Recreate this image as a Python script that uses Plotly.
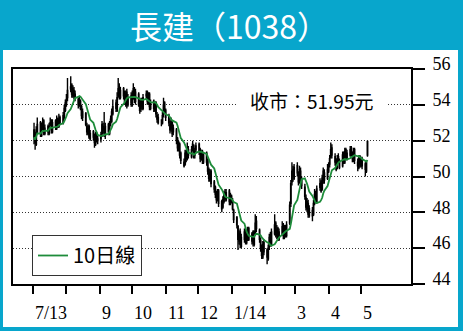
import pandas as pd
import plotly.graph_objects as go

TITLE = "長建（1038）"
MA_NAME = "10日線"
MONTH_TICKS = ["2013-07-01", "2013-08-01", "2013-09-01", "2013-10-01", "2013-11-01", "2013-12-01",
               "2014-01-01", "2014-02-01", "2014-03-01", "2014-04-01", "2014-05-01"]
MONTH_LABELS = ["7/13", "", "9", "10", "11", "12", "1/14", "", "3", "4", "5"]
Y_TICKS = [44, 46, 48, 50, 52, 54, 56]

# daily prices, Jul 2013 .. May 2014 (trading days)
OPEN = [
    52.6, 52.3, 51.8, 52.5, 53.0, 52.3, 52.7, 53.1, 52.4, 52.8, 52.4, 52.9, 53.1, 52.5, 53.1, 52.7, 53.2, 52.8, 53.3, 53.0, 53.3, 53.7,
    54.1, 54.4, 54.9, 55.1, 54.5, 54.8, 54.6, 54.3, 54.0, 54.2, 53.9, 53.3, 53.5, 52.8, 52.4, 52.8, 52.1, 52.5, 52.3, 51.8, 52.4, 52.0,
    52.1, 52.4, 52.8, 52.7, 52.3, 52.9, 52.4, 53.0, 53.1, 53.5, 54.1, 53.7, 54.5, 55.0, 54.4, 54.9, 54.6, 54.1, 54.7, 54.0, 54.5,
    54.0, 54.5, 54.8, 54.2, 54.6, 54.1, 53.8, 54.3, 53.8, 54.5, 54.7, 54.1, 54.6, 53.8, 54.2, 53.7, 54.1, 53.4, 53.3, 52.9, 53.0, 53.5, 54.1,
    53.7, 53.4, 52.9, 52.7, 53.0, 52.5, 52.6, 52.1, 51.5, 51.8, 51.3, 50.8, 50.7, 51.4, 51.0, 51.5, 51.1, 51.6, 51.7, 51.2, 51.5,
    51.8, 51.5, 51.0, 51.4, 50.8, 51.3, 50.9, 50.4, 49.8, 50.3, 49.7, 49.4, 49.1, 48.8, 49.2, 48.6, 48.3, 48.6, 49.1, 48.7, 49.2, 48.6,
    48.9, 48.6, 48.1, 47.7, 47.2, 46.4, 46.9, 46.1, 46.5, 47.0, 46.3, 46.6, 47.1, 46.4, 46.9, 46.2, 46.8, 47.5, 47.0, 46.4, 46.1, 45.5, 46.3,
    45.9, 45.4, 46.1, 46.7, 46.2, 46.8, 47.4, 46.7, 47.1, 46.5, 46.8, 47.3, 46.6, 47.2, 46.7, 47.4, 48.5, 49.7, 50.4, 49.9,
    50.6, 50.1, 49.8, 50.3, 49.8, 49.4, 48.8, 48.2, 48.5, 47.8, 48.1, 47.9, 48.6, 49.1, 48.6, 49.4, 49.7, 49.3, 49.8, 50.2, 49.9,
    50.3, 50.7, 51.1, 51.6, 51.1, 50.9, 50.5, 51.1, 50.8, 50.6, 51.3, 50.8, 51.5, 51.0, 51.2, 51.6, 51.3, 50.9, 51.5, 50.8, 50.5, 51.1,
    50.6, 51.0, 50.7, 50.3, 51.2,
]
HIGH = [
    53.0, 52.5, 52.8, 53.3, 53.1, 53.0, 53.3, 53.2, 52.9, 52.9, 53.0, 53.3, 53.2, 53.2, 53.2, 53.4, 53.3, 53.5, 53.4, 53.6, 54.0, 54.3,
    54.6, 55.5, 55.6, 55.2, 55.1, 55.0, 54.8, 54.4, 54.5, 54.3, 54.0, 53.8, 53.6, 53.0, 52.9, 52.9, 52.6, 52.6, 52.4, 52.5, 52.5, 52.3,
    52.5, 53.1, 53.0, 53.6, 53.0, 53.0, 53.1, 53.4, 53.8, 54.3, 54.3, 54.7, 55.5, 55.2, 55.0, 55.0, 54.8, 54.8, 54.9, 54.6, 54.7,
    54.8, 55.2, 55.0, 54.9, 54.7, 54.3, 54.4, 54.4, 54.6, 54.8, 54.8, 54.7, 54.7, 54.3, 54.3, 54.2, 54.2, 53.6, 53.5, 53.2, 53.6, 54.4, 54.2,
    53.8, 53.5, 53.1, 53.3, 53.1, 52.9, 52.7, 52.2, 52.0, 51.9, 51.4, 51.0, 51.5, 51.5, 51.9, 51.7, 51.7, 52.0, 51.8, 51.6, 51.9,
    51.9, 51.6, 51.5, 51.5, 51.3, 51.4, 51.0, 50.5, 50.4, 50.4, 49.8, 49.5, 49.2, 49.3, 49.3, 48.7, 48.9, 49.2, 49.3, 49.3, 49.3, 49.1,
    49.0, 48.8, 48.2, 47.8, 47.3, 47.0, 47.1, 46.8, 47.1, 47.2, 46.9, 47.2, 47.2, 46.9, 47.0, 47.0, 47.9, 47.8, 47.1, 46.6, 46.2, 46.4, 46.5,
    46.0, 46.2, 46.8, 46.9, 47.1, 47.9, 47.5, 47.3, 47.2, 47.1, 47.5, 47.4, 47.3, 47.3, 47.5, 48.6, 49.8, 50.8, 50.6, 50.7,
    50.8, 50.3, 50.6, 50.5, 50.0, 49.6, 49.0, 48.8, 48.7, 48.4, 48.3, 48.7, 49.3, 49.2, 49.5, 49.9, 49.8, 50.1, 50.5, 50.4, 50.7,
    50.8, 51.2, 51.9, 51.8, 51.3, 51.0, 51.2, 51.3, 51.0, 51.4, 51.4, 51.6, 51.6, 51.5, 51.7, 51.7, 51.4, 51.6, 51.6, 51.0, 51.2, 51.2,
    51.1, 51.1, 50.8, 50.9, 52.0,
]
LOW = [
    51.8, 51.5, 51.7, 52.4, 52.2, 52.2, 52.6, 52.3, 52.3, 52.3, 52.3, 52.8, 52.4, 52.4, 52.6, 52.6, 52.7, 52.7, 52.9, 52.9, 53.2, 53.6,
    53.9, 54.2, 54.7, 54.4, 54.4, 54.3, 54.2, 53.8, 53.9, 53.7, 53.2, 53.1, 52.8, 52.3, 52.3, 52.1, 52.0, 52.0, 51.6, 51.7, 51.9, 51.8,
    51.9, 52.2, 52.4, 52.2, 52.1, 52.3, 52.3, 52.8, 53.0, 53.4, 53.6, 53.6, 54.4, 54.3, 54.3, 54.3, 54.0, 53.9, 53.8, 53.9, 53.9,
    53.9, 54.3, 54.1, 54.0, 53.9, 53.5, 53.6, 53.7, 53.7, 54.3, 54.0, 54.0, 53.7, 53.7, 53.6, 53.6, 53.3, 53.0, 52.9, 52.8, 52.9, 53.3, 53.5,
    53.1, 52.8, 52.4, 52.5, 52.2, 52.3, 51.8, 51.4, 51.4, 51.0, 50.7, 50.5, 50.6, 50.8, 50.9, 51.0, 51.0, 51.4, 51.0, 51.0, 51.3,
    51.2, 50.8, 50.9, 50.7, 50.7, 50.6, 50.1, 49.7, 49.7, 49.4, 49.1, 48.8, 48.5, 48.6, 48.3, 48.0, 48.2, 48.5, 48.6, 48.6, 48.4, 48.4,
    48.5, 48.1, 47.4, 47.1, 45.9, 46.2, 46.0, 46.0, 46.3, 46.2, 46.2, 46.4, 46.4, 46.2, 46.1, 46.1, 46.7, 46.9, 46.3, 45.8, 45.4, 45.4, 45.6,
    45.1, 45.3, 45.9, 46.1, 46.1, 46.7, 46.6, 46.5, 46.4, 46.4, 46.7, 46.5, 46.5, 46.6, 46.6, 47.3, 48.3, 49.5, 49.7, 49.8,
    50.0, 49.5, 49.6, 49.7, 49.3, 48.7, 48.1, 48.0, 47.7, 47.7, 47.5, 47.8, 48.4, 48.5, 48.5, 49.2, 49.1, 49.2, 49.6, 49.6, 49.8,
    50.2, 50.5, 51.0, 51.0, 50.6, 50.3, 50.4, 50.7, 50.4, 50.5, 50.7, 50.7, 51.0, 50.9, 51.1, 51.1, 50.8, 50.8, 50.7, 50.3, 50.4, 50.5,
    50.5, 50.4, 50.0, 50.2, 51.1,
]
CLOSE = [
    52.2, 51.9, 52.6, 52.9, 52.4, 52.8, 53.0, 52.5, 52.7, 52.5, 52.8, 53.0, 52.6, 53.0, 52.8, 53.1, 52.9, 53.2, 53.0, 53.4, 53.8, 54.1,
    54.3, 54.8, 55.0, 54.6, 54.9, 54.5, 54.4, 54.0, 54.3, 53.8, 53.4, 53.6, 52.9, 52.5, 52.7, 52.2, 52.4, 52.2, 51.9, 52.3, 52.0, 52.1,
    52.3, 52.9, 52.6, 52.4, 52.8, 52.5, 52.9, 53.2, 53.6, 53.9, 53.8, 54.4, 54.9, 54.5, 54.8, 54.5, 54.2, 54.6, 54.0, 54.4, 54.1,
    54.6, 54.9, 54.3, 54.7, 54.0, 53.7, 54.2, 53.9, 54.4, 54.6, 54.2, 54.5, 53.9, 54.1, 53.8, 54.0, 53.5, 53.2, 53.0, 52.9, 53.4, 54.0, 53.6,
    53.3, 53.0, 52.6, 53.1, 52.4, 52.7, 52.0, 51.6, 51.9, 51.2, 50.9, 50.6, 51.3, 51.0, 51.6, 51.2, 51.5, 51.8, 51.1, 51.4, 51.7,
    51.4, 51.0, 51.3, 50.9, 51.2, 50.8, 50.3, 49.9, 50.2, 49.6, 49.3, 49.0, 48.7, 49.1, 48.5, 48.2, 48.7, 49.0, 48.8, 49.1, 48.6, 48.9,
    48.7, 48.2, 47.6, 47.3, 46.5, 46.8, 46.2, 46.6, 46.9, 46.4, 46.7, 47.0, 46.5, 46.8, 46.3, 46.9, 47.4, 47.1, 46.5, 46.0, 45.6, 46.2, 45.8,
    45.5, 46.0, 46.6, 46.3, 46.9, 47.3, 46.8, 47.0, 46.6, 46.9, 47.2, 46.7, 47.1, 46.8, 47.3, 48.4, 49.6, 50.3, 50.0, 50.5,
    50.2, 49.7, 50.4, 49.9, 49.5, 48.9, 48.3, 48.6, 47.9, 48.2, 47.8, 48.5, 49.0, 48.7, 49.3, 49.6, 49.2, 49.9, 50.3, 49.8, 50.4,
    50.6, 51.0, 51.5, 51.2, 50.8, 50.4, 51.0, 50.9, 50.5, 51.2, 50.9, 51.4, 51.1, 51.3, 51.5, 51.2, 51.0, 51.4, 50.9, 50.6, 51.0, 50.7,
    50.9, 50.6, 50.4, 50.8, 51.95,
]

dates = pd.bdate_range("2013-07-02", periods=len(CLOSE))
ma10 = pd.Series(CLOSE).rolling(10, min_periods=1).mean()

W, H = 463, 331
L, R, T, B = 13, 411, 69, 284
pw, ph = R - L, B - T


def px(x):
    return (x - L) / pw


def py(y):
    return (B - y) / ph


CYAN = "#08a6cc"
GREEN = "#1e8c3a"
CJK = "Noto Sans CJK TC"
SERIF = "Liberation Serif"

fig = go.Figure()
fig.add_trace(go.Candlestick(
    x=dates, open=OPEN, high=HIGH, low=LOW, close=CLOSE,
    increasing=dict(line=dict(color="black", width=1.4), fillcolor="black"),
    decreasing=dict(line=dict(color="black", width=1.4), fillcolor="black"),
    showlegend=False, hoverinfo="skip",
))
fig.add_trace(go.Scatter(
    x=dates, y=ma10, mode="lines", name=MA_NAME,
    line=dict(color=GREEN, width=1.8), showlegend=True,
))

fig.update_layout(
    width=W, height=H,
    margin=dict(l=L, r=W - R, t=T, b=H - B),
    paper_bgcolor=CYAN, plot_bgcolor="white",
    showlegend=True,
    legend=dict(
        x=px(32), y=py(235), xanchor="left", yanchor="top",
        bgcolor="white", bordercolor="#333333", borderwidth=1,
        font=dict(family=CJK, size=20, color="black"),
        itemwidth=30, tracegroupgap=0,
    ),
    xaxis=dict(
        type="date", range=["2013-06-12 12:00", "2014-06-16 08:00"],
        rangeslider=dict(visible=False),
        showgrid=False, zeroline=False,
        showline=True, linecolor="black", linewidth=2, mirror=True,
        tickvals=MONTH_TICKS, ticks="outside", ticklen=8, tickwidth=2, tickcolor="black",
        showticklabels=False,
    ),
    yaxis=dict(
        range=[44, 56], side="right",
        tickvals=Y_TICKS, ticks="outside", ticklen=12, tickwidth=2, tickcolor="black",
        showline=True, linecolor="black", linewidth=2, mirror=True,
        showgrid=True, gridcolor="#333333", gridwidth=1, griddash="1px,2px",
        zeroline=False,
        tickfont=dict(family=SERIF, size=18, color="black"),
        ticklabelstandoff=4, ticklabelshift=-5,
    ),
    shapes=[dict(type="rect", xref="paper", yref="paper",
                 x0=px(3), x1=px(458), y0=py(327), y1=py(50),
                 fillcolor="white", line=dict(width=0), layer="below")],
)

annotations = [
    dict(text=TITLE, xref="paper", yref="paper", x=px(229), y=py(25),
         xanchor="center", yanchor="middle", showarrow=False,
         font=dict(family=CJK, size=32, color="white")),
    dict(text=f"收市：{CLOSE[-1]:.2f}元", xref="paper", yref="paper", x=px(311), y=py(100),
         xanchor="center", yanchor="middle", showarrow=False,
         bgcolor="white", borderpad=13,
         font=dict(family=CJK, size=19, color="black")),
]
for d, lab in zip(MONTH_TICKS, MONTH_LABELS):
    if lab:
        annotations.append(dict(text=lab, x=d, xref="x", yref="paper", y=py(313),
                                xanchor="left", yanchor="middle", showarrow=False,
                                font=dict(family=SERIF, size=18, color="black")))
fig.update_layout(annotations=annotations)

fig.write_html("out.html")
